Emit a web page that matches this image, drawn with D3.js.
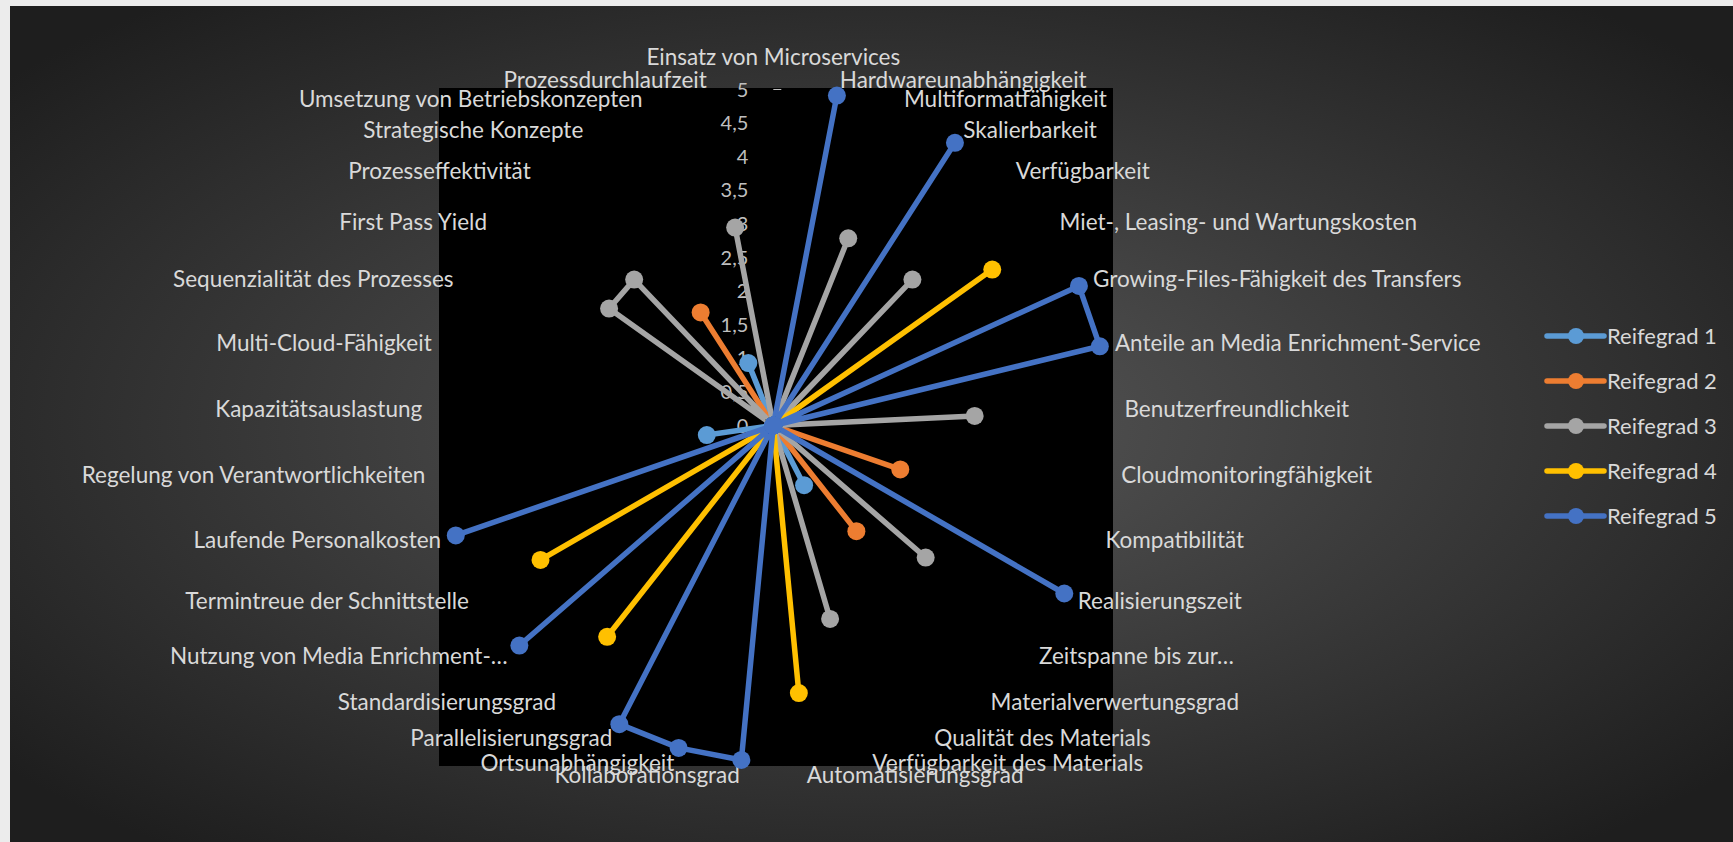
<!DOCTYPE html>
<html>
<head>
<meta charset="utf-8">
<script src="https://cdn.jsdelivr.net/npm/d3@7"></script>
<style>
  html, body { margin: 0; padding: 0; background: #ececec; }
  svg { display: block; }
</style>
</head>
<body>
<div id="chart"></div>
<script>
const categories = [
  'Einsatz von Microservices', 'Hardwareunabhängigkeit', 'Multiformatfähigkeit',
  'Skalierbarkeit', 'Verfügbarkeit', 'Miet-, Leasing- und Wartungskosten',
  'Growing-Files-Fähigkeit des Transfers', 'Anteile an Media Enrichment-Service',
  'Benutzerfreundlichkeit', 'Cloudmonitoringfähigkeit', 'Kompatibilität',
  'Realisierungszeit', 'Zeitspanne bis zur…', 'Materialverwertungsgrad',
  'Qualität des Materials', 'Verfügbarkeit des Materials', 'Automatisierungsgrad',
  'Kollaborationsgrad', 'Ortsunabhängigkeit', 'Parallelisierungsgrad',
  'Standardisierungsgrad', 'Nutzung von Media Enrichment-…', 'Termintreue der Schnittstelle',
  'Laufende Personalkosten', 'Regelung von Verantwortlichkeiten', 'Kapazitätsauslastung',
  'Multi-Cloud-Fähigkeit', 'Sequenzialität des Prozesses', 'First Pass Yield',
  'Prozesseffektivität', 'Strategische Konzepte', 'Umsetzung von Betriebskonzepten',
  'Prozessdurchlaufzeit'
];

const seriesNames = ['Reifegrad 1', 'Reifegrad 2', 'Reifegrad 3', 'Reifegrad 4', 'Reifegrad 5'];
const seriesColours = ['#5B9BD5', '#ED7D31', '#A5A5A5', '#FFC000', '#4472C4'];

//                 0  1  2  3  4  5  6  7  8  9 10 11 12 13 14 15 16 17 18 19 20 21 22 23 24 25 26 27 28 29 30 31 32
const reifegrad1 = [0, 0, 0, 0, 0, 0, 0, 0, 0, 0, 0, 0, 0, 0, 1, 0, 0, 0, 0, 0, 0, 0, 0, 0, 1, 0, 0, 0, 0, 0, 0, 1, 0];
const reifegrad2 = [0, 0, 0, 0, 0, 0, 0, 0, 0, 0, 2, 0, 0, 2, 0, 0, 0, 0, 0, 0, 0, 0, 0, 0, 0, 0, 0, 0, 0, 0, 2, 0, 0];
const reifegrad3 = [0, 0, 3, 0, 3, 0, 0, 0, 3, 0, 0, 0, 3, 0, 0, 3, 0, 0, 0, 0, 0, 0, 0, 0, 0, 0, 0, 0, 3, 3, 0, 0, 3];
const reifegrad4 = [0, 0, 0, 0, 0, 4, 0, 0, 0, 0, 0, 0, 0, 0, 0, 0, 4, 0, 0, 0, 4, 0, 4, 0, 0, 0, 0, 0, 0, 0, 0, 0, 0];
const reifegrad5 = [0, 5, 0, 5, 0, 0, 5, 5, 0, 0, 0, 5, 0, 0, 0, 0, 0, 5, 5, 5, 0, 5, 0, 5, 0, 0, 0, 0, 0, 0, 0, 0, 0];

const tickValues = [0, 0.5, 1, 1.5, 2, 2.5, 3, 3.5, 4, 4.5, 5];

const WIDTH = 1733;
const HEIGHT = 842;
const FONT = 'Lato, "Noto Sans", sans-serif';

const CX = 773.3;
const CY = 425.5;
const RADIUS = 336;
const LABEL_RADIUS = 351.5;

function translate(x, y) {
  return `translate(${x}, ${y})`;
}

const fmt = d => String(d).replace('.', ',');

const svg = d3.select('#chart').append('svg')
  .attr('width', WIDTH)
  .attr('height', HEIGHT);

// background gradient
const defs = svg.append('defs');
const grad = defs.append('radialGradient')
  .attr('id', 'bg')
  .attr('cx', '50%').attr('cy', '50%').attr('r', '65%');
grad.append('stop').attr('offset', '0%').attr('stop-color', '#575757');
grad.append('stop').attr('offset', '100%').attr('stop-color', '#1e1e1e');

svg.append('rect')
  .attr('x', 10).attr('y', 6)
  .attr('width', WIDTH - 10).attr('height', HEIGHT - 6)
  .attr('fill', 'url(#bg)');

// plot area
svg.append('rect')
  .attr('x', 439).attr('y', 88)
  .attr('width', 674).attr('height', 678)
  .attr('fill', '#000');

const g = svg.append('g').attr('transform', translate(CX, CY));

const r = d3.scaleLinear().domain([0, 5]).range([0, RADIUS]);
const angle = d3.scalePoint()
  .domain(d3.range(categories.length))
  .range([0, 2 * Math.PI * (categories.length - 1) / categories.length]);

// value axis labels
g.selectAll('.tick-label')
  .data(tickValues)
  .join('text')
  .attr('class', 'tick-label')
  .attr('x', -25)
  .attr('y', d => -r(d))
  .attr('dy', '0.35em')
  .attr('text-anchor', 'end')
  .attr('font-family', FONT)
  .attr('font-size', 20)
  .attr('fill', '#bfbfbf')
  .text(fmt);

g.append('line')
  .attr('x1', 0).attr('x2', 8)
  .attr('y1', -r(5)).attr('y2', -r(5))
  .attr('stroke', '#bfbfbf')
  .attr('stroke-width', 1);

// category labels
g.selectAll('.cat-label')
  .data(categories)
  .join('text')
  .attr('class', 'cat-label')
  .attr('x', (d, i) => LABEL_RADIUS * Math.sin(angle(i)))
  .attr('y', (d, i) => -LABEL_RADIUS * Math.cos(angle(i)) - (i === 0 ? 17 : 0))
  .attr('dy', '0.35em')
  .attr('text-anchor', (d, i) => {
    const s = Math.sin(angle(i));
    if (Math.abs(s) < 0.01) return 'middle';
    return s > 0 ? 'start' : 'end';
  })
  .attr('font-family', FONT)
  .attr('font-size', 22.5)
  .attr('fill', '#d9d9d9')
  .text(d => d);

// series
const allSeries = [reifegrad1, reifegrad2, reifegrad3, reifegrad4, reifegrad5];

const line = d3.lineRadial()
  .angle((d, i) => angle(i))
  .radius(d => r(d))
  .curve(d3.curveLinearClosed);

allSeries.forEach((values, s) => {
  const sg = g.append('g');
  sg.append('path')
    .datum(values)
    .attr('fill', 'none')
    .attr('stroke', seriesColours[s])
    .attr('stroke-width', 5.5)
    .attr('stroke-linejoin', 'round')
    .attr('d', line);

  sg.selectAll('circle')
    .data(values)
    .join('circle')
    .attr('cx', (d, i) => r(d) * Math.sin(angle(i)))
    .attr('cy', (d, i) => -r(d) * Math.cos(angle(i)))
    .attr('r', 9)
    .attr('fill', seriesColours[s]);
});

// legend
const legend = svg.append('g').attr('transform', translate(1547, 336));
seriesNames.forEach((name, s) => {
  const item = legend.append('g').attr('transform', translate(0, s * 45));
  item.append('line')
    .attr('x1', 0).attr('x2', 57)
    .attr('stroke', seriesColours[s])
    .attr('stroke-width', 5.5)
    .attr('stroke-linecap', 'round');
  item.append('circle')
    .attr('cx', 29).attr('r', 8)
    .attr('fill', seriesColours[s]);
  item.append('text')
    .attr('x', 60)
    .attr('dy', '0.35em')
    .attr('font-family', FONT)
    .attr('font-size', 22)
    .attr('fill', '#d9d9d9')
    .text(name);
});
</script>
</body>
</html>
